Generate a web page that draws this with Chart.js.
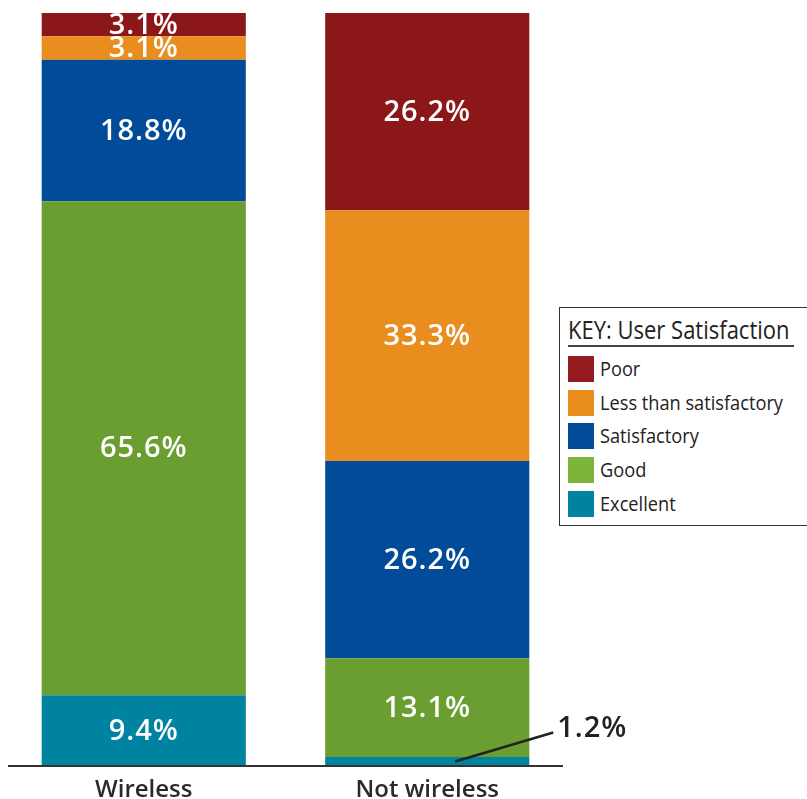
<!DOCTYPE html>
<html>
<head>
<meta charset="utf-8">
<script src="https://cdn.jsdelivr.net/npm/chart.js@4"></script>
<style>
  html, body { margin: 0; padding: 0; background: #fff; }
  #wrap { position: relative; width: 807px; height: 799px; }
  #legend {
    position: absolute; left: 559px; top: 307px; width: 250px; height: 219px;
    border: 1.5px solid #333; border-right: none; box-sizing: border-box;
    font-family: "Open Sans", sans-serif;
    color: #222; background: #fff;
  }
  #legend .title {
    position: absolute; left: 8px; top: 7px; font-size: 25px; line-height: 29px;
    white-space: nowrap; transform: scaleX(0.88); transform-origin: left top;
  }
  #legend .rule { position: absolute; left: 8px; top: 37px; width: 226px; height: 2px; background: #444; }
  #legend .item { position: absolute; left: 8px; height: 26px; white-space: nowrap; }
  #legend .sw { position: absolute; left: 0; top: 0; width: 26px; height: 26px; }
  #legend .lbl {
    position: absolute; left: 32px; top: 0; font-size: 20px; line-height: 26px;
    transform: scaleX(0.91); transform-origin: left top;
  }
</style>
</head>
<body>
<div id="wrap">
  <canvas id="chart" width="807" height="799"></canvas>
  <div id="legend"></div>
</div>
<script>
// ===============================
// Dati del grafico
// ===============================

// Categorie (asse X)
const categories = ["Wireless", "Not wireless"];

// Livelli di soddisfazione (dal basso verso l'alto)
const levels = ["Excellent", "Good", "Satisfactory", "Less than satisfactory", "Poor"];

// Percentuali per livello: [Wireless, Not wireless]
const excellent = [9.4, 1.2];
const good = [65.6, 13.1];
const satisfactory = [18.8, 26.2];
const lessThan = [3.1, 33.3];
const poor = [3.1, 26.2];

// Colori per livello
const barColors = ["#0083a0", "#6b9e31", "#024b98", "#e98d1f", "#8b1719"];
const keyColors = ["#0083a0", "#7db43a", "#024b98", "#e98d1f", "#951b1e"];

const seriesValues = [excellent, good, satisfactory, lessThan, poor];

// ===============================
// Plugin: linea di base + etichette percentuali
// ===============================
const valueLabels = {
    id: "valueLabels",
    afterDatasetsDraw(chart) {
        const ctx = chart.ctx;
        const area = chart.chartArea;
        ctx.save();

        // Linea di base
        ctx.strokeStyle = "#333";
        ctx.lineWidth = 2;
        ctx.beginPath();
        ctx.moveTo(area.left + 6, area.bottom);
        ctx.lineTo(area.right - 6, area.bottom);
        ctx.stroke();

        ctx.font = "600 29px 'Open Sans', sans-serif";
        ctx.letterSpacing = "1px";
        ctx.textAlign = "center";
        ctx.textBaseline = "middle";
        chart.data.datasets.forEach((ds, di) => {
            chart.getDatasetMeta(di).data.forEach((bar, i) => {
                const v = ds.data[i];
                const txt = v.toFixed(1) + "%";
                const midY = (bar.y + bar.base) / 2;
                if (v < 2) {
                    // Etichetta esterna con linea guida
                    ctx.strokeStyle = "#222";
                    ctx.lineWidth = 2.5;
                    ctx.beginPath();
                    ctx.moveTo(bar.x + 28, midY);
                    ctx.lineTo(bar.x + 126, midY - 29);
                    ctx.stroke();
                    ctx.fillStyle = "#222";
                    ctx.textAlign = "left";
                    ctx.fillText(txt, bar.x + 130, midY - 33);
                    ctx.textAlign = "center";
                } else {
                    ctx.fillStyle = "#fff";
                    ctx.fillText(txt, bar.x, midY + 1);
                }
            });
        });
        ctx.restore();
    }
};

// ===============================
// Creazione grafico
// ===============================
const chart = new Chart(document.getElementById("chart"), {
    type: "bar",
    data: {
        labels: categories,
        datasets: levels.map((name, k) => ({
            label: name,
            data: seriesValues[k],
            backgroundColor: barColors[k],
            borderWidth: 0,
            categoryPercentage: 0.72,
            barPercentage: 1
        }))
    },
    options: {
        responsive: false,
        animation: false,
        layout: { padding: { left: 2, right: 238, top: 13, bottom: 0 } },
        plugins: { legend: { display: false }, tooltip: { enabled: false } },
        scales: {
            x: {
                stacked: true,
                grid: { display: false },
                border: { display: false },
                ticks: {
                    color: "#2a2a2a",
                    font: { family: "'Open Sans', sans-serif", size: 24, weight: "600" },
                    padding: 2
                },
                afterFit(scale) { scale.height = 33; }
            },
            y: {
                stacked: true,
                display: false,
                min: 0,
                max: 100
            }
        }
    },
    plugins: [valueLabels]
});

// ===============================
// Legenda HTML (KEY)
// ===============================
const legend = document.getElementById("legend");
legend.innerHTML = '<div class="title">KEY: User Satisfaction</div><div class="rule"></div>';
// Ordine della legenda: dall'alto (Poor) al basso (Excellent)
levels.slice().reverse().forEach((name, j) => {
    const k = levels.length - 1 - j;
    const item = document.createElement("div");
    item.className = "item";
    item.style.top = (48 + j * 33.7) + "px";
    item.innerHTML = '<span class="sw" style="background:' + keyColors[k] + '"></span><span class="lbl">' + name + '</span>';
    legend.appendChild(item);
});
</script>
</body>
</html>
